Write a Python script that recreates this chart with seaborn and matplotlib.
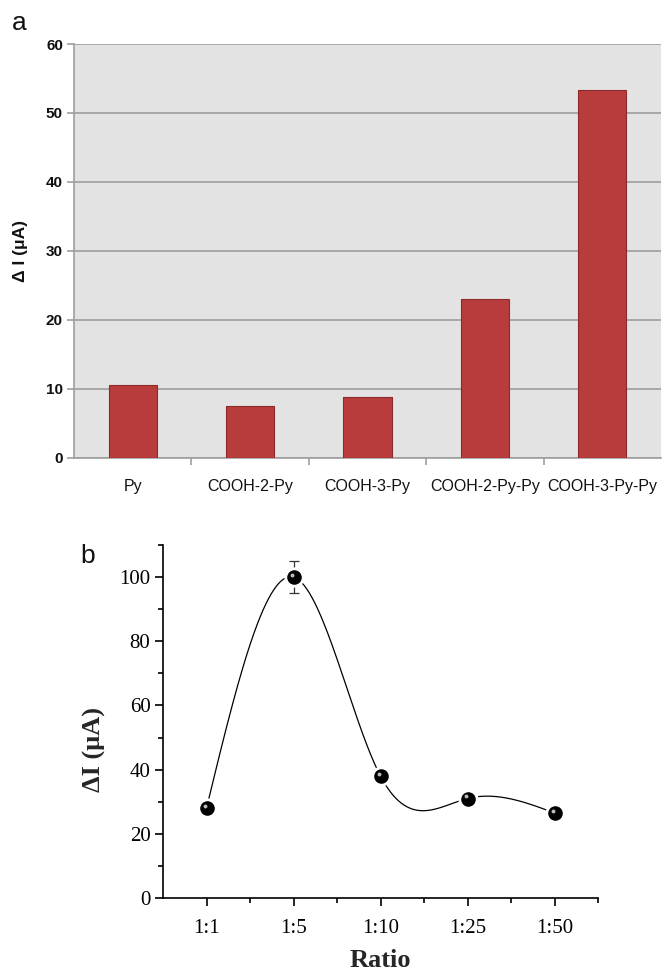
import numpy as np
import pandas as pd
import matplotlib
matplotlib.use("Agg")
import matplotlib.pyplot as plt
import matplotlib.transforms as mtransforms
from matplotlib.ticker import MultipleLocator, FixedLocator
import seaborn as sns

# ---------------- data ----------------
cats_a = ["Py", "COOH-2-Py", "COOH-3-Py", "COOH-2-Py-Py", "COOH-3-Py-Py"]
vals_a = [10.6, 7.5, 8.9, 23.0, 53.4]

ratios_b = ["1:1", "1:5", "1:10", "1:25", "1:50"]
vals_b = [28.0, 100.0, 38.0, 31.0, 26.5]
errs_b = [1.0, 5.0, 1.5, 1.0, 1.0]

sns.set_theme(style="white")
plt.rcParams["font.family"] = ["Liberation Sans", "DejaVu Sans"]

fig = plt.figure(figsize=(6.65, 9.73), dpi=100)
W, H = 665, 973

# ---------------- panel a ----------------
axa = fig.add_axes([74 / W, 1 - 458 / H, (661 - 74) / W, (458 - 44) / H])
axa.set_facecolor("#E3E3E3")
df_a = pd.DataFrame({"cat": cats_a, "val": vals_a})
sns.barplot(data=df_a, x="cat", y="val", ax=axa, color="#B83C3B",
            saturation=1, width=0.41, edgecolor="#8E2A29", linewidth=0.8, zorder=3)
axa.set_ylim(0, 60)
axa.set_xlim(-0.5, len(cats_a) - 0.5)
axa.yaxis.set_major_locator(MultipleLocator(10))
axa.grid(axis="y", color="#9E9E9E", linewidth=1.2, zorder=0)
axa.set_axisbelow(True)
for s in ["top", "right"]:
    axa.spines[s].set_visible(False)
for s in ["left", "bottom"]:
    axa.spines[s].set_color("#9E9E9E")
    axa.spines[s].set_linewidth(1.2)
axa.set_xlabel("")
axa.set_ylabel("Δ I (μA)", fontsize=12.5, fontweight="bold", color="#111111")
axa.yaxis.set_label_coords(-0.078, 0.5)
axa.tick_params(axis="y", which="major", left=True, length=5, width=1.2, color="#9E9E9E",
                labelsize=11, pad=3, labelcolor="#111111")
axa.tick_params(axis="x", which="major", bottom=False, labelsize=11.5, pad=9, labelcolor="#111111")
for lab in axa.get_yticklabels():
    lab.set_fontweight("bold")
axa.xaxis.set_minor_locator(FixedLocator(np.arange(0.5, len(cats_a) - 0.5, 1.0)))
axa.tick_params(axis="x", which="minor", bottom=True, length=5, width=1.2, color="#9E9E9E")
fig.text(12 / W, 1 - 30 / H, "a", fontsize=19, color="#111111")

# ---------------- panel b ----------------
axb = fig.add_axes([163 / W, 1 - 898 / H, (598 - 163) / W, (898 - 545) / H])
axb.set_facecolor("white")
xpos = np.arange(1, len(vals_b) + 1, dtype=float)


def natural_spline(x, y, n=400):
    x = np.asarray(x, float)
    y = np.asarray(y, float)
    m = len(x)
    h = np.diff(x)
    A = np.zeros((m, m))
    r = np.zeros(m)
    A[0, 0] = A[-1, -1] = 1
    for i in range(1, m - 1):
        A[i, i - 1] = h[i - 1]
        A[i, i] = 2 * (h[i - 1] + h[i])
        A[i, i + 1] = h[i]
        r[i] = 6 * ((y[i + 1] - y[i]) / h[i] - (y[i] - y[i - 1]) / h[i - 1])
    M = np.linalg.solve(A, r)
    xs = np.linspace(x[0], x[-1], n)
    idx = np.clip(np.searchsorted(x, xs) - 1, 0, m - 2)
    x0, x1 = x[idx], x[idx + 1]
    hh = x1 - x0
    a = (x1 - xs) / hh
    b = (xs - x0) / hh
    ys = (a * y[idx] + b * y[idx + 1]
          + ((a ** 3 - a) * M[idx] + (b ** 3 - b) * M[idx + 1]) * hh ** 2 / 6)
    return xs, ys


xs, ys = natural_spline(xpos, vals_b)
sns.lineplot(x=xs, y=ys, ax=axb, color="black", linewidth=0.9, sort=False, zorder=2)
axb.errorbar(xpos, vals_b, yerr=errs_b, fmt="none", ecolor="#333333",
             elinewidth=0.9, capsize=3.5, capthick=0.9, zorder=3)
sns.scatterplot(x=xpos, y=vals_b, ax=axb, color="white", s=210, linewidth=0, zorder=4)
sns.scatterplot(x=xpos, y=vals_b, ax=axb, color="black", s=110, linewidth=0, zorder=5)
hl = mtransforms.offset_copy(axb.transData, fig=fig, x=-1.4, y=1.7, units="points")
sns.scatterplot(x=xpos, y=vals_b, ax=axb, color="#BBBBBB", s=8, linewidth=0, zorder=6,
                transform=hl)

axb.set_xlim(0.5, 5.5)
axb.set_ylim(0, 110)
axb.set_xticks(xpos)
axb.set_xticklabels(ratios_b)
axb.xaxis.set_minor_locator(FixedLocator(np.arange(1.5, 6.0, 1.0)))
axb.yaxis.set_major_locator(FixedLocator([0, 20, 40, 60, 80, 100]))
axb.yaxis.set_minor_locator(FixedLocator([10, 30, 50, 70, 90, 110]))
for s in ["top", "right"]:
    axb.spines[s].set_visible(False)
for s in ["left", "bottom"]:
    axb.spines[s].set_color("black")
    axb.spines[s].set_linewidth(1.2)
serif = ["Liberation Serif", "DejaVu Serif"]
axb.tick_params(axis="both", which="major", direction="out", length=6, width=1.2,
                color="black", labelsize=15, labelcolor="black", bottom=True, left=True)
axb.tick_params(axis="both", which="minor", direction="out", length=3.5, width=1.2,
                color="black", bottom=True, left=True)
axb.tick_params(axis="x", pad=9)
axb.tick_params(axis="y", pad=3)
for lab in axb.get_yticklabels() + axb.get_xticklabels():
    lab.set_family(serif)
axb.set_xlabel("Ratio", fontsize=19, fontweight="bold", family=serif)
axb.xaxis.set_label_coords(0.5, -0.145)
axb.set_ylabel("ΔI (μA)", fontsize=19, fontweight="bold", family=serif)
axb.yaxis.set_label_coords(-0.13, 0.42)
fig.text(80 / W, 1 - 563 / H, "b", fontsize=19, color="#111111")

fig.savefig("out.png", dpi=100)
